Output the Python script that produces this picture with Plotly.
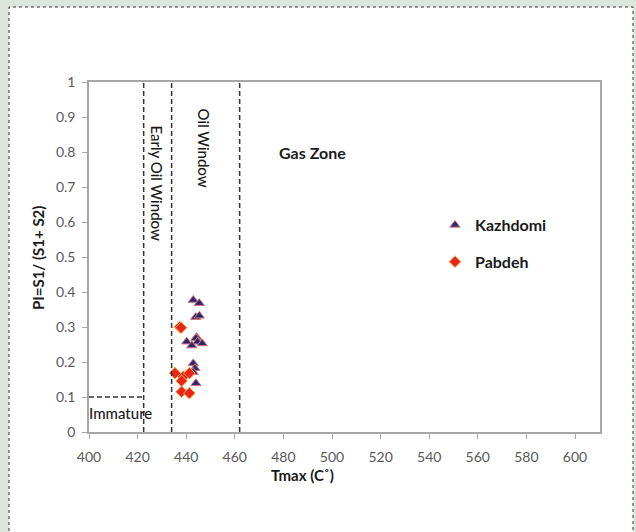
import plotly.graph_objects as go

# ---- data ----
kazhdomi_tmax = [442.9, 445.4, 443.9, 445.4, 444.3, 444.0, 444.7, 440.2, 446.6, 442.3, 442.9, 443.6, 442.9, 444.0]
kazhdomi_pi   = [0.377, 0.368, 0.328, 0.332, 0.271, 0.268, 0.258, 0.258, 0.253, 0.247, 0.196, 0.182, 0.171, 0.139]
pabdeh_tmax = [437.3, 437.9, 435.4, 438.8, 441.3, 438.1, 438.1, 441.3]
pabdeh_pi   = [0.300, 0.298, 0.168, 0.158, 0.168, 0.146, 0.115, 0.111]

zone_bounds = [422.5, 434.0, 462.0]      # dashed Tmax boundaries
immature_pi = 0.1                          # dashed PI boundary
x_ticks = [400, 420, 440, 460, 480, 500, 520, 540, 560, 580, 600]
y_ticks = [0, 0.1, 0.2, 0.3, 0.4, 0.5, 0.6, 0.7, 0.8, 0.9, 1]
y_tick_text = ["0", "0.1", "0.2", "0.3", "0.4", "0.5", "0.6", "0.7", "0.8", "0.9", "1"]

FONT = "Lato"
L, R, T, B = 89, 36, 82, 100
W, H = 636, 532
pw, ph = W - L - R, H - T - B

def px_x(p):  # pixel -> paper x
    return (p - L) / pw

def px_y(p):  # pixel -> paper y
    return (H - B - p) / ph

fig = go.Figure()
fig.add_trace(go.Scatter(
    x=kazhdomi_tmax, y=kazhdomi_pi, mode="markers", name="Kazhdomi",
    legendgroup="k",
    marker=dict(symbol="triangle-up", size=9, color="#2b2a6e",
                line=dict(color="#d9747c", width=1)),
))
fig.add_trace(go.Scatter(
    x=pabdeh_tmax, y=pabdeh_pi, mode="markers", name="Pabdeh",
    legendgroup="p",
    marker=dict(symbol="diamond", size=9, color="#e8261c",
                line=dict(color="#f3b24c", width=1)),
))

shapes = []
# page background (white box with dotted border)
shapes.append(dict(type="rect", xref="paper", yref="paper", layer="below",
                   x0=px_x(9), x1=px_x(633), y0=px_y(560), y1=px_y(7),
                   fillcolor="white", line=dict(color="#333333", width=1, dash="dot")))
for b in zone_bounds:
    shapes.append(dict(type="line", xref="x", yref="y", x0=b, x1=b, y0=0, y1=1,
                       line=dict(color="#333333", width=1.5, dash="5px,3px")))
shapes.append(dict(type="line", xref="x", yref="y", x0=400, x1=zone_bounds[0],
                   y0=immature_pi, y1=immature_pi,
                   line=dict(color="#333333", width=1.5, dash="5px,3px")))

txt = dict(family=FONT, color="#1a1a1a")
annotations = [
    dict(text="Gas Zone", x=492, y=0.80, xref="x", yref="y", showarrow=False,
         xanchor="center", yanchor="middle",
         font=dict(size=16, weight="bold", **txt)),
    dict(text="Oil Window", x=447.7, y=0.81, xref="x", yref="y", showarrow=False,
         xanchor="center", yanchor="middle",
         textangle=90, font=dict(size=15, weight=500, **txt)),
    dict(text="Early Oil Window", x=428, y=0.71, xref="x", yref="y", showarrow=False,
         xanchor="center", yanchor="middle",
         textangle=90, font=dict(size=15, weight=500, **txt)),
    dict(text="Immature", x=412.8, y=0.054, xref="x", yref="y", showarrow=False,
         xanchor="center", yanchor="middle",
         font=dict(size=15, weight=500, **txt)),
    dict(text="Tmax (C˚)", x=px_x(302), y=px_y(475), xref="paper", yref="paper",
         xanchor="center", yanchor="middle",
         showarrow=False, font=dict(size=15, weight="bold", **txt)),
    dict(text="PI=S1/ (S1+ S2)", x=px_x(38), y=px_y(258), xref="paper", yref="paper",
         xanchor="center", yanchor="middle",
         showarrow=False, textangle=-90,
         font=dict(size=15, weight="bold", **txt)),
]

axis_common = dict(showgrid=False, zeroline=False, showline=True, linecolor="#a6a6a6",
                   linewidth=1.5, mirror=True, ticks="outside", ticklen=5,
                   tickcolor="#a6a6a6", tickwidth=1,
                   tickfont=dict(family=FONT, size=14, color="#595959"))

fig.update_layout(
    width=W, height=H,
    margin=dict(l=L, r=R, t=T, b=B, pad=0),
    paper_bgcolor="#dbe6dc", plot_bgcolor="rgba(0,0,0,0)",
    xaxis=dict(range=[400, 400 + pw / 2.43], tickvals=x_ticks, **axis_common),
    yaxis=dict(range=[0, 1], tickvals=y_ticks, ticktext=y_tick_text, **axis_common),
    shapes=shapes, annotations=annotations,
    showlegend=True,
    legend=dict(x=px_x(435), y=px_y(208), xanchor="left", yanchor="top",
                bgcolor="rgba(0,0,0,0)", traceorder="grouped", tracegroupgap=13,
                font=dict(family=FONT, size=16, color="#1a1a1a", weight="bold")),
)
fig.update_xaxes(ticklabelstandoff=6)
fig.update_yaxes(ticklabelstandoff=4)

fig.write_html("out.html", config={"displayModeBar": False},
               post_script="document.body.style.margin='0';document.body.style.overflow='hidden';")
